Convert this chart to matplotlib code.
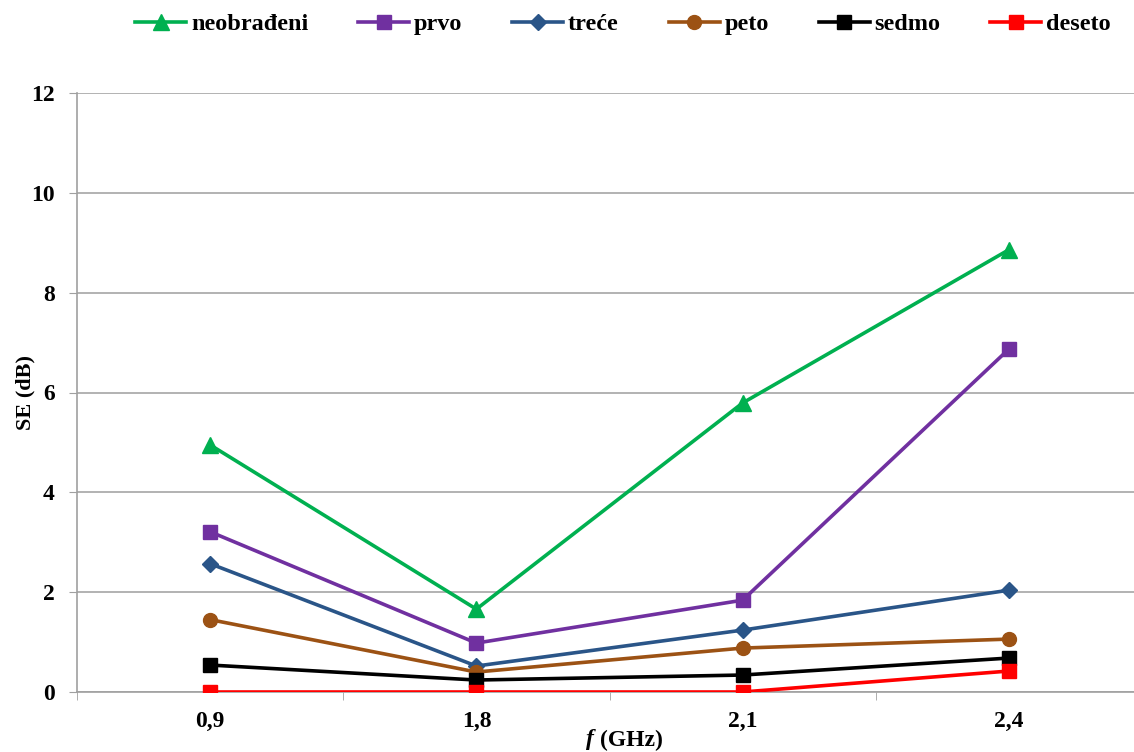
import matplotlib
matplotlib.use("Agg")
import matplotlib.pyplot as plt
import numpy as np

categories = ["0,9", "1,8", "2,1", "2,4"]
series_names = ["neobrađeni", "prvo", "treće", "peto", "sedmo", "deseto"]
neobradjeni = [4.95, 1.66, 5.79, 8.86]
prvo = [3.21, 0.98, 1.84, 6.87]
trece = [2.57, 0.52, 1.24, 2.04]
peto = [1.45, 0.40, 0.88, 1.06]
sedmo = [0.54, 0.24, 0.34, 0.68]
deseto = [0.0, 0.0, 0.0, 0.42]
yticks = [0, 2, 4, 6, 8, 10, 12]

values = [neobradjeni, prvo, trece, peto, sedmo, deseto]
colors = ["#00B050", "#7030A0", "#2A5588", "#9C5214", "#000000", "#FF0000"]
markers = ["^", "s", "D", "o", "s", "s"]
msizes = [11, 10, 8, 10, 10, 10]

fig = plt.figure(figsize=(11.34, 7.52), dpi=100)
ax = fig.add_axes([77/1134, 1-692/752, (1142-77)/1134, (692-93)/752])

x = np.arange(len(categories))
for name, vals, c, m, ms in zip(series_names, values, colors, markers, msizes):
    ax.plot(x, vals, color=c, marker=m, markersize=ms, linewidth=2.6, label=name, zorder=3)

ax.set_xlim(-0.5, len(categories) - 0.5)
ax.set_ylim(0, 12)
ax.set_yticks(yticks)
ax.set_yticklabels([str(t) for t in yticks])
ax.set_xticks(x)
ax.set_xticklabels(categories)
ax.set_xticks(np.arange(-0.5, len(categories), 1.0), minor=True)
ax.tick_params(axis="x", which="major", length=0, pad=14)
ax.tick_params(axis="x", which="minor", length=6, color="#A0A0A0", direction="out")
ax.tick_params(axis="y", length=6, color="#A0A0A0", pad=10)
for lab in ax.get_xticklabels() + ax.get_yticklabels():
    lab.set_fontfamily("Liberation Serif")
    lab.set_fontweight("bold")
    lab.set_fontsize(17)
ax.grid(axis="y", color="#A6A6A6", linewidth=1.2)
ax.set_axisbelow(True)
for s in ["top", "right"]:
    ax.spines[s].set_visible(False)
for s in ["left", "bottom"]:
    ax.spines[s].set_color("#A0A0A0")
    ax.spines[s].set_linewidth(1.2)

fig.text(25/1134, 1-392/752, "SE (dB)", rotation=90, ha="center", va="center",
         fontfamily="Liberation Serif", fontweight="bold", fontsize=16)
fig.text(594/1134, 1-740/752, "f", ha="right", va="center", fontstyle="italic",
         fontfamily="Liberation Serif", fontweight="bold", fontsize=17)
fig.text(600/1134, 1-740/752, "(GHz)", ha="left", va="center",
         fontfamily="Liberation Serif", fontweight="bold", fontsize=17)

leg = fig.legend(loc="center", bbox_to_anchor=(623/1134, 1-24/752), ncol=6, frameon=False,
                 prop={"family": "Liberation Serif", "weight": "bold", "size": 17.5},
                 handlelength=2.1, handletextpad=0.2, columnspacing=2.05)

fig.savefig("out.png", dpi=100)
